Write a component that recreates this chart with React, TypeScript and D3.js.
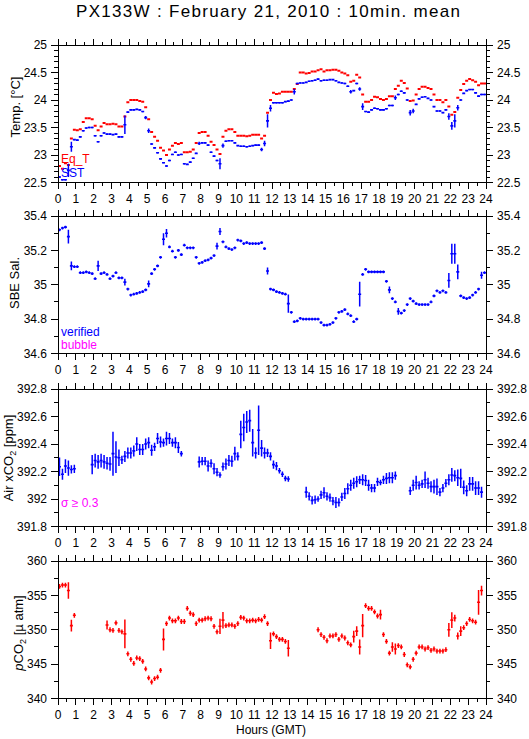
import React from "react";
import * as d3 from "d3";

const N = NaN;

const hourTicks = d3.range(0, 25);

const sstValues = [
  22.6, 22.55, 22.55, 22.72, 23.15, 23.28, 23.27, 23.33, 23.44, 23.49,
  23.5, 23.5, 23.35, 23.24, 23.35, 23.4, 23.38, 23.38, 23.37, 23.38,
  23.33, 23.33, 23.55, 23.78, 23.82, 23.82, 23.83, 23.82, 23.79, 23.68,
  23.44, 23.2, 23.13, 23.04, 22.93, 22.86, 22.8, 22.9, 23.01, 23.05,
  23.0, 23.01, 22.84, 22.83, 22.87, 22.94, 23.03, 23.21, 23.22, 23.22,
  23.18, 23.05, 22.98, 22.9, 22.84, 23.17, 23.25, 23.26, 23.26, 23.22,
  23.17, 23.16, 23.16, 23.15, 23.16, 23.17, 23.18, 23.18, 23.1, 23.21,
  23.62, 23.85, 23.95, 23.95, 23.95, 23.95, 23.97, 23.98, 24.0, 24.15,
  24.3, 24.31, 24.31, 24.32, 24.34, 24.35, 24.36, 24.38, 24.35, 24.36,
  24.36, 24.37, 24.37, 24.35, 24.32, 24.31, 24.3, 24.25, 24.15, 24.17,
  24.3, 24.2, 23.88, 23.79, 23.78, 23.82, 23.85, 23.84, 23.82, 23.82,
  23.84, 23.9, 23.9, 24.04, 24.1, 24.16, 24.13, 24.0, 23.77, 23.8,
  23.92, 24.02, 24.05, 24.06, 24.03, 24.0, 23.88, 23.8, 23.8, 23.77,
  23.82, 23.7, 23.53, 23.62, 23.86, 24.0, 24.12, 24.17, 24.19, 24.19,
  24.13, 24.07, 24.1, 24.1,
];
const sstStdDefault = 0.012;
const sstStdLarge: [number, number][] = [
  [3, 0.12], [4, 0.09], [22, 0.17], [29, 0.03], [30, 0.04], [47, 0.03], [54, 0.1],
  [55, 0.04], [68, 0.03], [69, 0.05], [70, 0.12], [71, 0.06], [79, 0.05], [98, 0.03],
  [101, 0.03], [102, 0.06], [113, 0.04], [118, 0.05], [119, 0.04], [131, 0.06],
  [132, 0.07], [133, 0.12], [134, 0.05],
];

const eqTValues = [
  22.8, 22.75, 22.85, 22.82, 23.3, 23.46, 23.45, 23.47, 23.6, 23.67,
  23.67, 23.65, 23.53, 23.45, 23.52, 23.58, 23.56, 23.56, 23.57, 23.56,
  23.52, 23.52, 23.7, 23.96, 24.0, 24.0, 24.0, 23.98, 23.97, 23.87,
  23.65, 23.42, 23.33, 23.26, 23.13, 23.08, 23.0, 23.1, 23.17, 23.22,
  23.2, 23.22, 23.05, 23.05, 23.06, 23.1, 23.22, 23.4, 23.42, 23.42,
  23.35, 23.24, 23.18, 23.1, 23.02, 23.33, 23.44, 23.47, 23.47, 23.42,
  23.35, 23.35, 23.35, 23.34, 23.35, 23.37, 23.37, 23.37, 23.3, 23.35,
  23.77, 24.0, 24.13, 24.11, 24.12, 24.15, 24.15, 24.15, 24.15, 24.2,
  24.29, 24.5, 24.5, 24.48, 24.49, 24.52, 24.52, 24.54, 24.56, 24.52,
  24.54, 24.54, 24.55, 24.55, 24.53, 24.5, 24.48, 24.45, 24.33, 24.35,
  24.46, 24.41, 24.1, 23.97, 23.97, 24.0, 24.06, 24.05, 24.02, 24.0,
  24.02, 24.07, 24.07, 24.2, 24.26, 24.35, 24.31, 24.21, 23.98, 23.99,
  24.1, 24.2, 24.24, 24.24, 24.22, 24.2, 24.1, 24.0, 24.0, 23.96,
  24.0, 23.88, 23.73, 23.78, 24.04, 24.18, 24.29, 24.35, 24.38, 24.36,
  24.33, 24.27, 24.3, 24.3,
];

const salValues = [
  35.32, 35.33, 35.335, 35.28, 35.11, 35.105, 35.105, 35.07, 35.07, 35.075,
  35.07, 35.065, 35.035, 35.11, 35.065, 35.07, 35.06, 35.035, 35.05, 35.07,
  35.04, 35.04, 35.015, 34.975, 34.94, 34.945, 34.95, 34.955, 34.96, 34.97,
  35.005, 35.065, 35.09, 35.11, 35.16, 35.265, 35.3, 35.22, 35.195, 35.16,
  35.2, 35.175, 35.23, 35.215, 35.215, 35.215, 35.16, 35.125, 35.13, 35.14,
  35.145, 35.155, 35.17, 35.225, 35.31, 35.25, 35.22, 35.21, 35.205, 35.215,
  35.26, 35.255, 35.24, 35.245, 35.24, 35.24, 35.24, 35.24, 35.245, 35.21,
  35.08, 34.975, 34.97, 34.96, 34.955, 34.95, 34.945, 34.89, 34.84, 34.785,
  34.79, 34.805, 34.8, 34.8, 34.8, 34.8, 34.8, 34.8, 34.78, 34.765,
  34.765, 34.77, 34.78, 34.805, 34.84, 34.845, 34.855, 34.83, 34.82, 34.785,
  34.8, 34.945, 35.06, 35.09, 35.075, 35.075, 35.075, 35.075, 35.075, 35.075,
  35.02, 34.97, 34.92, 34.9, 34.845, 34.835, 34.85, 34.885, 34.92, 34.905,
  34.89, 34.885, 34.885, 34.885, 34.885, 34.9, 34.935, 34.965, 34.955, 34.965,
  34.955, 35.025, 35.18, 35.18, 35.075, 34.935, 34.925, 34.92, 34.925, 34.94,
  34.955, 34.975, 35.055, 35.07,
];
const salStdDefault = 0.008;
const salStdLarge: [number, number][] = [
  [3, 0.04], [4, 0.025], [13, 0.03], [22, 0.02], [30, 0.02], [35, 0.035], [36, 0.025],
  [53, 0.02], [54, 0.02], [70, 0.02], [77, 0.053], [101, 0.072], [111, 0.02],
  [114, 0.02], [131, 0.043], [132, 0.058], [133, 0.058], [134, 0.043], [142, 0.02],
];

const airValues = [
  392.235, 392.18, 392.24, 392.225, 392.215, 392.22, N, N, N, N,
  N, 392.25, 392.28, 392.27, 392.28, 392.27, 392.26, 392.255, 392.33, 392.305,
  392.3, 392.285, 392.31, 392.335, 392.335, 392.35, 392.4, 392.36, 392.36, 392.4,
  392.41, 392.355, 392.38, 392.44, 392.415, 392.41, 392.44, 392.44, 392.41, 392.41,
  392.375, 392.33, N, N, N, N, N, 392.27, 392.275, 392.275,
  392.24, 392.26, 392.22, 392.195, 392.175, 392.235, 392.255, 392.28, 392.275, 392.33,
  392.31, 392.47, 392.52, 392.56, 392.57, 392.41, 392.335, 392.5, 392.37, 392.335,
  392.335, 392.31, 392.25, 392.24, 392.205, 392.18, 392.15, 392.145, N, N,
  N, N, N, 392.05, 392.02, 391.99, 391.995, 392.0, 392.03, 392.045,
  392.02, 392.01, 391.985, 391.975, 391.975, 392.015, 392.04, 392.075, 392.1, 392.115,
  392.125, 392.14, 392.14, 392.135, 392.1, 392.08, 392.08, 392.125, 392.12, 392.14,
  392.15, 392.155, 392.155, 392.17, N, N, N, N, 392.06, 392.1,
  392.12, 392.1, 392.11, 392.14, 392.115, 392.09, 392.09, 392.09, 392.05, 392.08,
  392.115, 392.14, 392.175, 392.17, 392.155, 392.15, 392.085, 392.06, 392.11, 392.11,
  392.08, 392.08, 392.05, N,
];
const airStd = [
  0.067, 0.04, 0.05, 0.055, 0.03, 0.03, 0, 0, 0, 0,
  0, 0.07, 0.05, 0.05, 0.05, 0.05, 0.045, 0.05, 0.16, 0.115,
  0.06, 0.03, 0.04, 0.04, 0.04, 0.04, 0.05, 0.04, 0.04, 0.04,
  0.04, 0.04, 0.03, 0.04, 0.04, 0.03, 0.05, 0.04, 0.03, 0.04,
  0.04, 0.02, 0, 0, 0, 0, 0, 0.04, 0.03, 0.03,
  0.04, 0.03, 0.04, 0.03, 0.02, 0.03, 0.04, 0.04, 0.04, 0.05,
  0.03, 0.1, 0.1, 0.08, 0.08, 0.1, 0.04, 0.18, 0.06, 0.04,
  0.03, 0.03, 0.03, 0.03, 0.02, 0.02, 0.02, 0.02, 0, 0,
  0, 0, 0, 0.04, 0.03, 0.03, 0.03, 0.02, 0.03, 0.04,
  0.03, 0.03, 0.03, 0.04, 0.03, 0.03, 0.04, 0.04, 0.04, 0.04,
  0.04, 0.03, 0.04, 0.04, 0.04, 0.03, 0.03, 0.03, 0.02, 0.03,
  0.04, 0.04, 0.04, 0.03, 0, 0, 0, 0, 0.03, 0.04,
  0.05, 0.03, 0.03, 0.06, 0.04, 0.04, 0.05, 0.06, 0.03, 0.03,
  0.03, 0.04, 0.05, 0.04, 0.06, 0.07, 0.05, 0.04, 0.05, 0.05,
  0.05, 0.05, 0.04, 0,
];

const pco2Values = [
  356.3, 356.5, 356.5, 355.7, 350.6, 352.1, N, N, N, N,
  N, N, N, N, N, N, 350.7, 350.0, 349.9, 351.0,
  349.9, 349.7, 349.4, 346.5, 345.7, 345.1, 345.9, 345.8, 345.4, 344.3,
  343.0, 342.4, 342.9, 343.1, 344.1, 348.6, 350.9, 351.7, 351.3, 351.3,
  351.7, 351.2, 351.2, 353.1, 352.4, 352.2, 350.9, 351.4, 351.4, 351.6,
  351.7, 351.6, 350.5, 349.7, 350.5, 351.4, 350.6, 350.7, 350.7, 350.5,
  350.9, 351.8, 351.7, 351.3, 351.3, 351.4, 351.3, 351.5, 351.4, 351.9,
  350.9, 348.4, 349.4, 349.0, 348.6, 348.6, 348.3, 347.3, N, N,
  N, N, N, N, N, N, N, 350.0, 349.3, 348.9,
  348.4, 349.1, 349.1, 349.3, 348.6, 349.1, 348.8, 348.1, 347.8, 349.0,
  349.8, 347.5, 350.6, 353.5, 353.1, 353.1, 352.6, 352.0, 352.2, 349.3,
  348.3, 346.6, 347.5, 347.2, 347.7, 347.5, 346.4, 344.9, 344.6, 345.7,
  346.6, 347.5, 347.5, 347.2, 347.4, 347.0, 347.2, 346.9, 346.9, 346.9,
  347.1, 350.0, 351.4, 351.7, 349.1, 349.8, 350.3, 350.9, 351.5, 351.3,
  351.1, 354.0, 355.7, N,
];
const pco2StdDefault = 0.35;
const pco2StdLarge: [number, number][] = [
  [3, 1.2], [4, 0.85], [16, 0.65], [22, 2.1], [35, 1.6], [54, 1.1], [55, 1.2],
  [71, 1.2], [77, 1.2], [99, 0.85], [100, 0.7], [101, 1.1], [102, 1.7], [108, 0.7],
  [112, 0.7], [113, 0.8], [131, 1.0], [132, 1.15], [133, 0.5], [134, 0.5],
  [135, 0.7], [141, 1.8], [142, 0.7],
];

const tempTicks = [22.5, 23, 23.5, 24, 24.5, 25];
const salTicks = [34.6, 34.8, 35, 35.2, 35.4];
const airTicks = [391.8, 392, 392.2, 392.4, 392.6, 392.8];
const pco2Ticks = [340, 345, 350, 355, 360];

const BLUE = "#0000ff";
const RED = "#ff0000";
const MAGENTA = "#ff00ff";
const FONT = "'Liberation Sans', Arial, Helvetica, sans-serif";

const X0 = 58;
const X1 = 486;
const PH = 137.5;

function stdArray(def: number, large: [number, number][], n: number) {
  const arr = new Array(n).fill(def);
  large.forEach(([i, s]) => (arr[i] = s));
  return arr;
}

type Series = {
  values: number[];
  std: number[] | null;
  color: string;
  width: number;
};

type Panel = {
  top: number;
  domain: [number, number];
  ticks: number[];
  minorStep: number;
  fmt: (v: number) => string;
  label: React.ReactNode;
  labelCenter: number;
  labelX: number;
  series: Series[];
  legend: { text: React.ReactNode; color: string; y: number }[];
};

export default function App() {
  const x = d3.scaleLinear().domain([0, 24]).range([X0, X1]);
  const n = 144;

  const panels: Panel[] = [
    {
      top: 45,
      domain: [22.5, 25],
      ticks: tempTicks,
      minorStep: 0.1,
      fmt: (v) => d3.format("")(v),
      label: <>Temp. [°C]</>,
      labelCenter: 107,
      labelX: 20,
      series: [
        { values: eqTValues, std: null, color: RED, width: 2 },
        { values: sstValues, std: stdArray(sstStdDefault, sstStdLarge, n), color: BLUE, width: 1.6 },
      ],
      legend: [
        { text: "Eq_T", color: RED, y: 163 },
        { text: "SST", color: BLUE, y: 177 },
      ],
    },
    {
      top: 216,
      domain: [34.6, 35.4],
      ticks: salTicks,
      minorStep: 0.1,
      fmt: (v) => d3.format("")(+v.toFixed(1)),
      label: <>SBE Sal.</>,
      labelCenter: 283,
      labelX: 19,
      series: [{ values: salValues, std: stdArray(salStdDefault, salStdLarge, n), color: BLUE, width: 1.6 }],
      legend: [
        { text: "verified", color: BLUE, y: 336 },
        { text: "bubble", color: MAGENTA, y: 349 },
      ],
    },
    {
      top: 389,
      domain: [391.8, 392.8],
      ticks: airTicks,
      minorStep: 0.1,
      fmt: (v) => d3.format("")(+v.toFixed(1)),
      label: (
        <>
          Air xCO<tspan fontSize={9} dy={3}>2</tspan>
          <tspan dy={-3}> [ppm]</tspan>
        </>
      ),
      labelCenter: 458,
      labelX: 13,
      series: [{ values: airValues, std: airStd, color: BLUE, width: 1.6 }],
      legend: [{ text: "σ ≥ 0.3", color: MAGENTA, y: 507 }],
    },
    {
      top: 561,
      domain: [340, 360],
      ticks: pco2Ticks,
      minorStep: 2.5,
      fmt: (v) => d3.format("")(v),
      label: (
        <>
          <tspan fontStyle="italic">p</tspan>CO<tspan fontSize={9} dy={3}>2</tspan>
          <tspan dy={-3}> [µ atm]</tspan>
        </>
      ),
      labelCenter: 633,
      labelX: 23,
      series: [{ values: pco2Values, std: stdArray(pco2StdDefault, pco2StdLarge, n), color: RED, width: 1.6 }],
      legend: [],
    },
  ];

  const minorHours = d3.range(0.5, 24, 1);

  return (
    <svg
      width={529}
      height={739}
      style={{ position: "absolute", left: 0, top: 0, background: "#fff" }}
      fontFamily={FONT}
    >
      <rect x={0} y={0} width={529} height={739} fill="#fff" />
      <text x={268} y={17} fontSize={17} textAnchor="middle" textLength={384} lengthAdjust="spacing">
        PX133W : February 21, 2010 : 10min. mean
      </text>
      {panels.map((p, pi) => {
        const y = d3.scaleLinear().domain(p.domain).range([p.top + PH, p.top]);
        const bottom = p.top + PH;
        const minors = d3
          .range(p.domain[0], p.domain[1] + 1e-9, p.minorStep)
          .filter((v) => !p.ticks.some((t) => Math.abs(t - v) < 1e-6));
        const clipId = `clip${pi}`;
        return (
          <g key={pi}>
            <defs>
              <clipPath id={clipId}>
                <rect x={X0} y={p.top} width={X1 - X0} height={PH} />
              </clipPath>
            </defs>
            <g clipPath={`url(#${clipId})`}>
              {p.series.map((s, si) =>
                s.values.map((v, i) => {
                  if (!isFinite(v)) return null;
                  const xa = x(i / 6);
                  const xb = x((i + 1) / 6);
                  const xc = x((i + 0.5) / 6);
                  const sd = s.std ? s.std[i] : 0;
                  return (
                    <g key={`${si}-${i}`} stroke={s.color}>
                      <line x1={xa} x2={xb} y1={y(v)} y2={y(v)} strokeWidth={s.width} />
                      {sd > 0 && (
                        <line x1={xc} x2={xc} y1={y(v - sd)} y2={y(v + sd)} strokeWidth={1.5} />
                      )}
                    </g>
                  );
                })
              )}
            </g>
            <g shapeRendering="crispEdges">
              <rect x={X0} y={p.top} width={X1 - X0} height={PH} fill="none" stroke="#000" strokeWidth={1} />
              {hourTicks.map((h) => (
                <g key={`xt${h}`} stroke="#000" strokeWidth={1}>
                  <line x1={x(h)} x2={x(h)} y1={p.top} y2={p.top - 6} />
                  <line x1={x(h)} x2={x(h)} y1={bottom} y2={bottom + 6} />
                </g>
              ))}
              {minorHours.map((h) => (
                <g key={`xm${h}`} stroke="#000" strokeWidth={1}>
                  <line x1={x(h)} x2={x(h)} y1={p.top} y2={p.top - 3} />
                  <line x1={x(h)} x2={x(h)} y1={bottom} y2={bottom + 3} />
                </g>
              ))}
              {p.ticks.map((t) => (
                <g key={`yt${t}`} stroke="#000">
                  <line x1={X0} x2={X0 - 7} y1={y(t)} y2={y(t)} />
                  <line x1={X1} x2={X1 + 7} y1={y(t)} y2={y(t)} />
                </g>
              ))}
              {minors.map((m) => (
                <g key={`ym${m}`} stroke="#000">
                  <line x1={X0} x2={X0 - 4} y1={y(m)} y2={y(m)} />
                  <line x1={X1} x2={X1 + 4} y1={y(m)} y2={y(m)} />
                </g>
              ))}
            </g>
            {hourTicks.map((h) => (
              <text key={`xl${h}`} x={x(h)} y={bottom + 20} fontSize={12} textAnchor="middle">
                {h}
              </text>
            ))}
            {p.ticks.map((t) => (
              <g key={`ytl${t}`}>
                <text x={X0 - 11} y={y(t)} dy="0.36em" fontSize={12} textAnchor="end">
                  {p.fmt(t)}
                </text>
                <text x={X1 + 11} y={y(t)} dy="0.36em" fontSize={12} textAnchor="start">
                  {p.fmt(t)}
                </text>
              </g>
            ))}
            <text
              transform={`translate(${p.labelX},${p.labelCenter}) rotate(-90)`}
              fontSize={13}
              textAnchor="middle"
            >
              {p.label}
            </text>
            {p.legend.map((l, li) => (
              <text key={li} x={61} y={l.y} fontSize={12} fill={l.color}>
                {l.text}
              </text>
            ))}
          </g>
        );
      })}
      <text x={271} y={734} fontSize={12} textAnchor="middle">
        Hours (GMT)
      </text>
    </svg>
  );
}
